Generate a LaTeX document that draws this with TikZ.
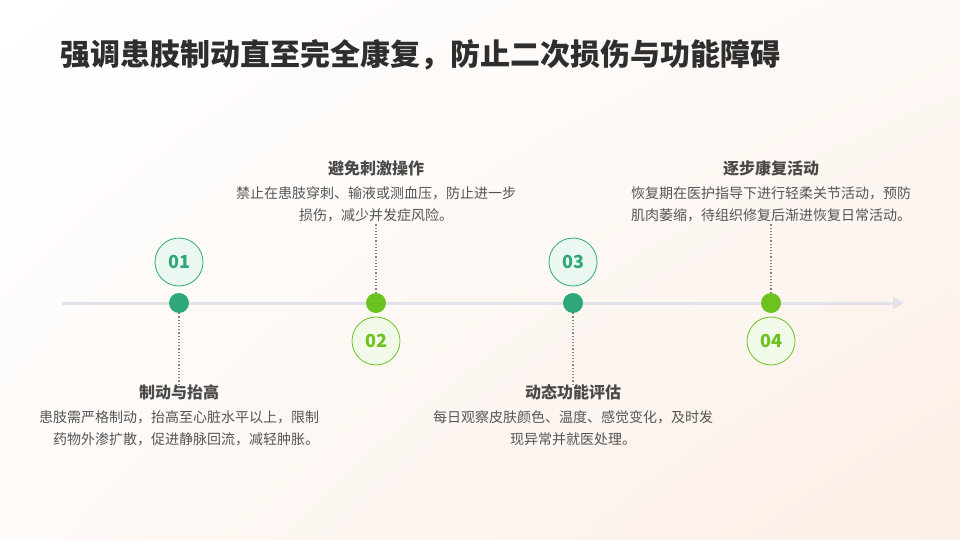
\documentclass[tikz,border=0pt]{standalone}
\usepackage{fontspec}
\setmainfont{Noto Sans CJK SC}
\usepackage{tikz}
\usetikzlibrary{arrows.meta,positioning,shadings}
\definecolor{tealmark}{HTML}{2EA878}
\definecolor{limemark}{HTML}{6CC21F}
\definecolor{tealsoft}{HTML}{EBF7F1}
\definecolor{limesoft}{HTML}{F1F9E8}
\definecolor{titlegray}{HTML}{2E2E2E}
\definecolor{headgray}{HTML}{4A4A4A}
\definecolor{bodygray}{HTML}{555555}
\definecolor{axisgray}{HTML}{E2E2EA}
\definecolor{warmbg}{HTML}{FCEFE6}

\tikzset{
  dotmark/.style={circle, minimum size=20pt, inner sep=0pt, fill=#1},
  numring/.style={circle, minimum size=48pt, inner sep=0pt, draw=#1, line width=0.8pt,
    text=#1, font=\fontsize{18}{18}\selectfont\bfseries},
  stephead/.style={font=\fontsize{16}{16}\selectfont\bfseries, text=headgray},
  stepbody/.style={font=\fontsize{14}{22}\selectfont, text=bodygray, align=center},
  guide/.style={gray, line width=1.2pt, dotted}
}

\begin{document}
\begin{tikzpicture}[x=1pt, y=-1pt]
		% background
		\shade[upper left=white, upper right=white!60!warmbg, lower left=white!70!warmbg, lower right=warmbg]
			(0,0) rectangle (960,540);
		\useasboundingbox (0,0) rectangle (960,540);

		% title
		\node[anchor=west, font=\fontsize{30}{30}\selectfont\bfseries, text=titlegray] (title) at (57,55)
			{强调患肢制动直至完全康复，防止二次损伤与功能障碍};

		% axis
		\coordinate (axstart) at (62,303);
		\coordinate (axend) at (904,303);
		\draw[axisgray, line width=3pt, -{Triangle[length=11pt, width=12pt]}] (axstart) -- (axend);

		% markers on the axis
		\node[dotmark=tealmark] (d1) at (179,303) {};
		\node[dotmark=limemark] (d2) at (376,303) {};
		\node[dotmark=tealmark] (d3) at (573,303) {};
		\node[dotmark=limemark] (d4) at (771,303) {};

		% numbered rings
		\node[numring=tealmark, fill=tealsoft] (n1) at (179,262) {01};
		\node[numring=limemark, fill=limesoft] (n2) at (376,341) {02};
		\node[numring=tealmark, fill=tealsoft] (n3) at (573,262) {03};
		\node[numring=limemark, fill=limesoft] (n4) at (771,341) {04};

		% step 1
		\node[stephead] (h1) at (179,392) {制动与抬高};
		\node[stepbody, below=4pt of h1] (b1)
			{患肢需严格制动，抬高至心脏水平以上，限制\\\hspace*{14pt}药物外渗扩散，促进静脉回流，减轻肿胀。};
		\draw[guide] (d1.south) -- ([yshift=-10pt]h1.north);

		% step 2
		\node[stephead] (h2) at (376,168) {避免刺激操作};
		\node[stepbody, below=4pt of h2] (b2)
			{禁止在患肢穿刺、输液或测血压，防止进一步\\损伤，减少并发症风险。};
		\draw[guide] (d2.north) -- ([yshift=2pt]b2.south);

		% step 3
		\node[stephead] (h3) at (573,392) {动态功能评估};
		\node[stepbody, below=4pt of h3] (b3)
			{每日观察皮肤颜色、温度、感觉变化，及时发\\现异常并就医处理。};
		\draw[guide] (d3.south) -- ([yshift=-4pt]h3.north);

		% step 4
		\node[stephead] (h4) at (771,168) {逐步康复活动};
		\node[stepbody, below=4pt of h4] (b4)
			{恢复期在医护指导下进行轻柔关节活动，预防\\肌肉萎缩，待组织修复后渐进恢复日常活动。};
		\draw[guide] (d4.north) -- ([yshift=2pt]b4.south);
	\end{tikzpicture}
\end{document}
